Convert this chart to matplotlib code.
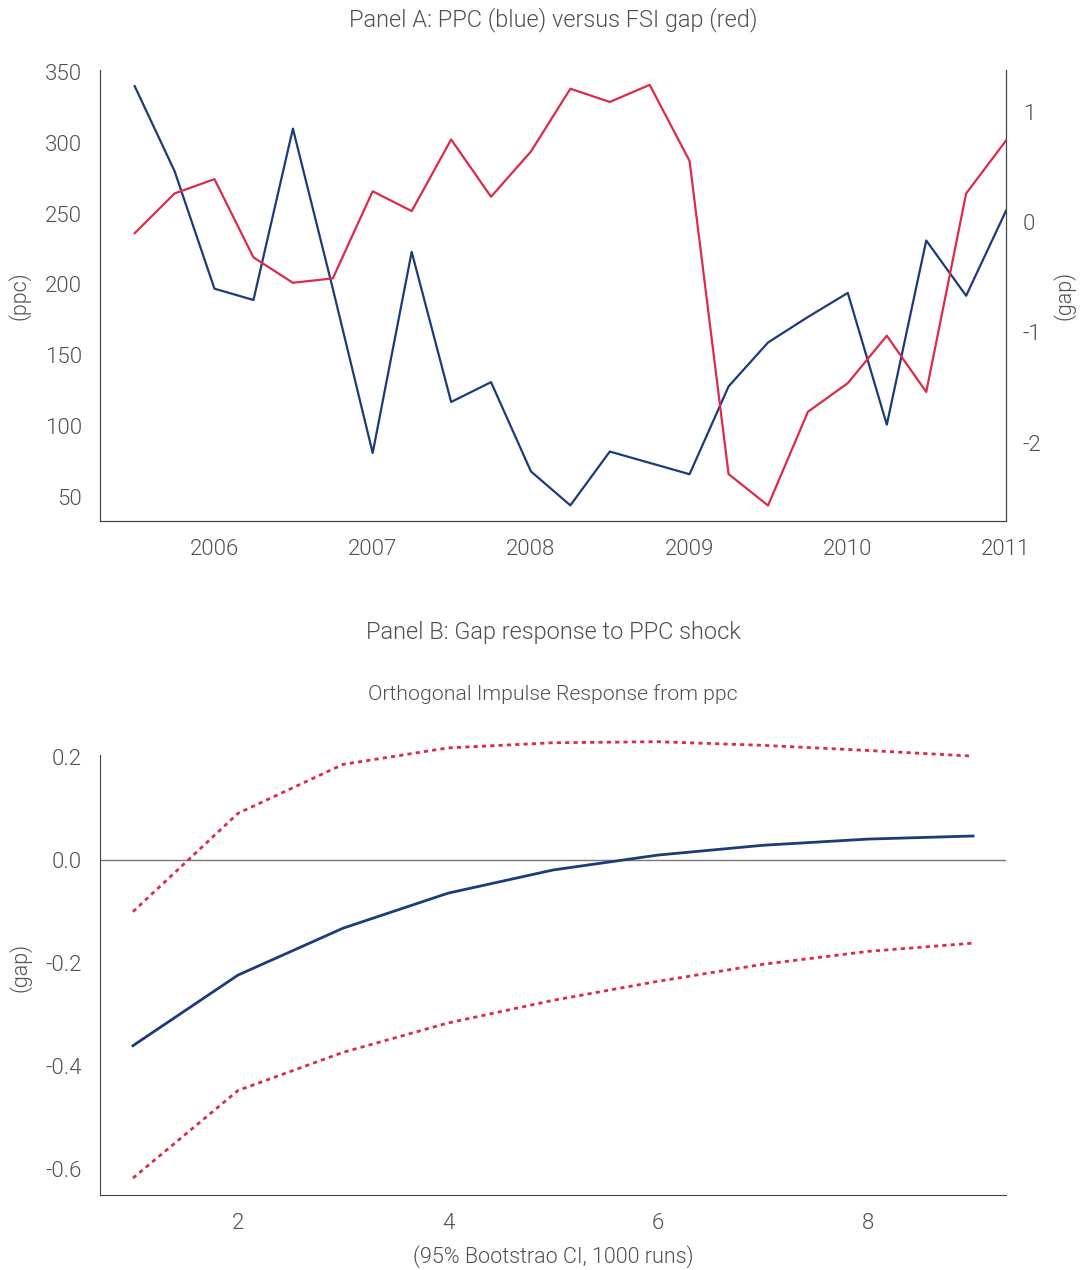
import numpy as np
import pandas as pd
import matplotlib
matplotlib.use("Agg")
import matplotlib.pyplot as plt
from matplotlib import font_manager

# use Roboto Light if it is installed, else plain Roboto
light = [f for f in font_manager.fontManager.ttflist
         if f.name == 'Roboto' and f.weight == 300 and f.style == 'normal']
weight = 300 if light else 'normal'

plt.rcParams['font.family'] = ['Roboto', 'DejaVu Sans']
plt.rcParams['font.weight'] = weight
plt.rcParams['axes.titleweight'] = weight
plt.rcParams['axes.labelweight'] = weight
plt.rcParams['axes.unicode_minus'] = False

# Panel A data (quarterly)
dates = pd.date_range('2005-07-01', '2011-01-01', freq='QS')
ppc = [340, 280, 197, 189, 310, 197, 81, 223, 117, 131, 68, 44,
       82, 74, 66, 128, 159, 177, 194, 101, 231, 192, 252]
gap = [-0.10, 0.26, 0.39, -0.32, -0.55, -0.51, 0.28, 0.10, 0.75, 0.23, 0.64, 1.21,
       1.09, 1.245, 0.555, -2.285, -2.57, -1.72, -1.46, -1.03, -1.54, 0.26, 0.74]

# Panel B data (impulse response)
horizon = [1, 2, 3, 4, 5, 6, 7, 8, 9]
irf = [-0.36, -0.223, -0.132, -0.064, -0.019, 0.010, 0.029, 0.041, 0.047]
irf_upper = [-0.10, 0.091, 0.186, 0.218, 0.228, 0.230, 0.223, 0.213, 0.202]
irf_lower = [-0.617, -0.447, -0.373, -0.316, -0.272, -0.235, -0.202, -0.177, -0.161]

blue = '#1d3a7a'
red = '#dc2a48'
txt = '#505050'
spine_c = '#444444'

fig = plt.figure(figsize=(10.8, 12.7), dpi=100)

# ---- Panel A
ax1 = fig.add_axes([0.0926, 0.5898, 0.8389, 0.3551])
ax1.plot(dates, ppc, color=blue, lw=1.6)
ax1.set_ylim(33, 351.4)
ax1.set_yticks([50, 100, 150, 200, 250, 300, 350])
ax1.set_xlim(pd.Timestamp('2005-04-12'), pd.Timestamp('2011-01-01'))
ax1.set_xticks(pd.to_datetime(['2006-01-01', '2007-01-01', '2008-01-01',
                               '2009-01-01', '2010-01-01', '2011-01-01']))
ax1.set_xticklabels(['2006', '2007', '2008', '2009', '2010', '2011'])
ax1.set_ylabel('(ppc)', fontsize=15.5, color=txt, labelpad=10)

ax2 = ax1.twinx()
ax2.plot(dates, gap, color=red, lw=1.6)
ax2.set_ylim(-2.71, 1.38)
ax2.set_yticks([-2, -1, 0, 1])
ax2.set_ylabel('(gap)', fontsize=15.5, color=txt, labelpad=8)

for a in (ax1, ax2):
    a.spines['top'].set_visible(False)
    for s in ('left', 'right', 'bottom'):
        a.spines[s].set_color(spine_c)
    a.tick_params(length=0, labelsize=16, labelcolor=txt, pad=13)
ax2.tick_params(pad=12)
ax1.set_title('Panel A: PPC (blue) versus FSI gap (red)', fontsize=17,
              color=txt, pad=31)

# ---- Panel B
ax3 = fig.add_axes([0.0926, 0.059, 0.8389, 0.359])
ax3.axhline(0, color='#777777', lw=1)
ax3.plot(horizon, irf, color=blue, lw=2)
ax3.plot(horizon, irf_upper, color=red, lw=2, ls=(0, (1.5, 1.5)))
ax3.plot(horizon, irf_lower, color=red, lw=2, ls=(0, (1.5, 1.5)))
ax3.set_xlim(0.686, 9.314)
ax3.set_ylim(-0.65, 0.235)
ax3.set_xticks([2, 4, 6, 8])
ax3.set_yticks([-0.6, -0.4, -0.2, 0.0, 0.2])
ax3.set_yticklabels(['-0.6', '-0.4', '-0.2', '0.0', '0.2'])
ax3.spines['top'].set_visible(False)
ax3.spines['right'].set_visible(False)
ax3.spines['left'].set_bounds(-0.65, 0.205)
for s in ('left', 'bottom'):
    ax3.spines[s].set_color(spine_c)
ax3.tick_params(length=0, labelsize=16, labelcolor=txt, pad=13)
ax3.set_ylabel('(gap)', fontsize=15.5, color=txt, labelpad=10)
ax3.set_xlabel('(95% Bootstrao CI, 1000 runs)', fontsize=15.5, color=txt, labelpad=8)
ax3.set_title('Orthogonal Impulse Response from ppc', fontsize=15.3,
              color=txt, pad=28)
fig.text(0.512, 1 - 633 / 1270, 'Panel B: Gap response to PPC shock',
         fontsize=17, color=txt, ha='center', va='center')

fig.savefig('out.png', dpi=100, facecolor='white')
